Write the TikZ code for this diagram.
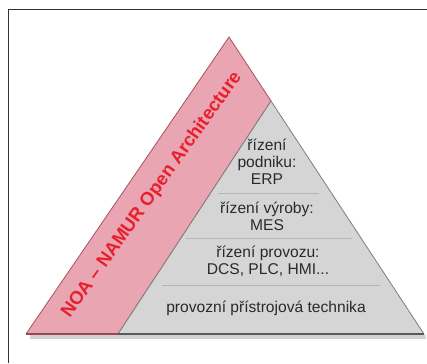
\documentclass[tikz,border=0pt]{standalone}
\usepackage{fontspec}
\setmainfont{Liberation Sans}
\begin{document}
\definecolor{pinkfill}{HTML}{E9A6B2}
\definecolor{pinkedge}{HTML}{A8505E}
\definecolor{grayfill}{HTML}{D5D5D6}
\definecolor{grayedge}{HTML}{7E7E80}
\definecolor{divider}{HTML}{B4B4B6}
\definecolor{noared}{HTML}{E8202E}
\definecolor{ink}{HTML}{2A2A2A}
\tikzset{
  layer/.style={font=\fontsize{15.6}{17}\selectfont, text=ink, align=center, inner sep=0pt},
  divline/.style={draw=divider, line width=1pt},
  noalabel/.style={font=\fontsize{18.5}{20}\bfseries\selectfont, text=noared, inner sep=0pt, rotate=54.6}
}
\begin{tikzpicture}[x=1pt,y=-1pt]
\useasboundingbox (0,0) rectangle (427,363);
\fill[white] (0,0) rectangle (427,363);
% frame
\draw[line width=1pt, color=black!80] (8,363) -- (8,10) -- (427,10);
% soft shadow under the base
\fill[black!18] (30,335) -- (426,335) -- (426,339) -- (30,339) -- cycle;
% pyramid parts
\coordinate (apex) at (229,37);
\coordinate (split) at (271,101);
\coordinate (bl) at (26,334);
\coordinate (br) at (424,334);
\coordinate (gbl) at (118,334);
\filldraw[fill=pinkfill, draw=pinkedge, line width=0.8pt, line join=round]
  (apex) -- (split) -- (gbl) -- (bl) -- cycle;
\filldraw[fill=grayfill, draw=grayedge, line width=0.8pt, line join=round]
  (split) -- (br) -- (gbl) -- cycle;
\draw[black!65, line width=1.2pt] (gbl) -- (br);
\draw[pinkedge!90!black, line width=1.2pt] (bl) -- (gbl);
% layer dividers
\coordinate (d1a) at (218,193); \coordinate (d1b) at (319,193);
\coordinate (d2a) at (186,238); \coordinate (d2b) at (352,238);
\coordinate (d3a) at (162,285); \coordinate (d3b) at (380,285);
\draw[divline] (d1a) -- (d1b);
\draw[divline] (d2a) -- (d2b);
\draw[divline] (d3a) -- (d3b);
% layer labels
\node[layer] (erp) at (267,162) {řízení\\podniku:\\ERP};
\node[layer] (mes) at (267,216) {řízení výroby:\\MES};
\node[layer] (dcs) at (268,261) {řízení provozu:\\DCS, PLC, HMI...};
\node[layer] (field) at (266,308) {provozní přístrojová technika};
% slanted label
\node[noalabel] (noa) at (152,195) {NOA – NAMUR Open Architecture};
\end{tikzpicture}
\end{document}
